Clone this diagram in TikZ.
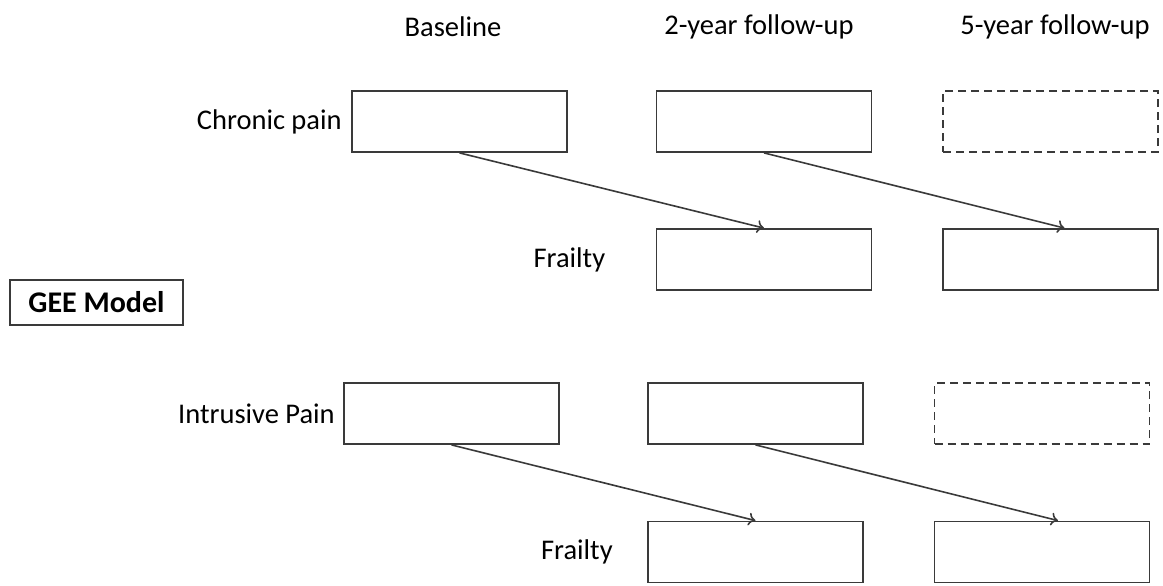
\documentclass[tikz,border=0pt]{standalone}
\usepackage{fontspec}
\setmainfont{Carlito}
\usepackage{xcolor}
\usepackage{tikz}
\usetikzlibrary{positioning,arrows.meta}

\definecolor{linegray}{HTML}{3A3A3A}

\begin{document}
\begin{tikzpicture}[
    x=0.5pt, y=-0.5pt,
    font=\fontsize{14.25}{17}\selectfont,
    box/.style={rectangle, draw=linegray, line width=0.9pt, minimum width=107.5pt, minimum height=30.5pt, inner sep=0pt},
    future/.style={box, dashed, dash pattern=on 4pt off 2.5pt},
    gee/.style={rectangle, draw=linegray, line width=0.9pt, minimum width=86.5pt, minimum height=22.5pt, inner sep=0pt, font=\fontsize{15}{18}\selectfont\bfseries},
    lbl/.style={inner sep=0pt, anchor=east},
    arrow/.style={-{To[length=3.5pt,width=6.5pt]}, draw=linegray, line width=0.8pt}
]
    \useasboundingbox (0,0) rectangle (1163,585);

    % time points
    \node (base) at (453,27) {Baseline};
    \node (yr2) at (759,27) {2-year follow-up};
    \node (yr5) at (1055,27) {5-year follow-up};

    % chronic pain model
    \node[box] (cp0) at (459.5,121.5) {};
    \node[box] (cp2) at (764,121.5) {};
    \node[future] (cp5) at (1050.5,121.5) {};
    \node[box] (fa2) at (764,259.5) {};
    \node[box] (fa5) at (1050.5,259.5) {};
    \node[lbl, left=4.5pt of cp0] (cplabel) {Chronic pain};
    \node[lbl, left=25pt of fa2] (falabel) {Frailty};

    \node[gee] (model) at (96.5,302.5) {GEE Model};

    % intrusive pain model
    \node[box] (ip0) at (451.5,413.5) {};
    \node[box] (ip2) at (755.5,413.5) {};
    \node[future] (ip5) at (1042,413.5) {};
    \node[box] (fb2) at (755.5,552) {};
    \node[box] (fb5) at (1042,552) {};
    \node[lbl, left=4pt of ip0] (iplabel) {Intrusive Pain};
    \node[lbl, left=17pt of fb2] (fblabel) {Frailty};

    \draw[arrow] (cp0.south) -- (fa2.north);
    \draw[arrow] (cp2.south) -- ([xshift=7pt]fa5.north);
    \draw[arrow] (ip0.south) -- (fb2.north);
    \draw[arrow] (ip2.south) -- ([xshift=8pt]fb5.north);
\end{tikzpicture}
\end{document}
